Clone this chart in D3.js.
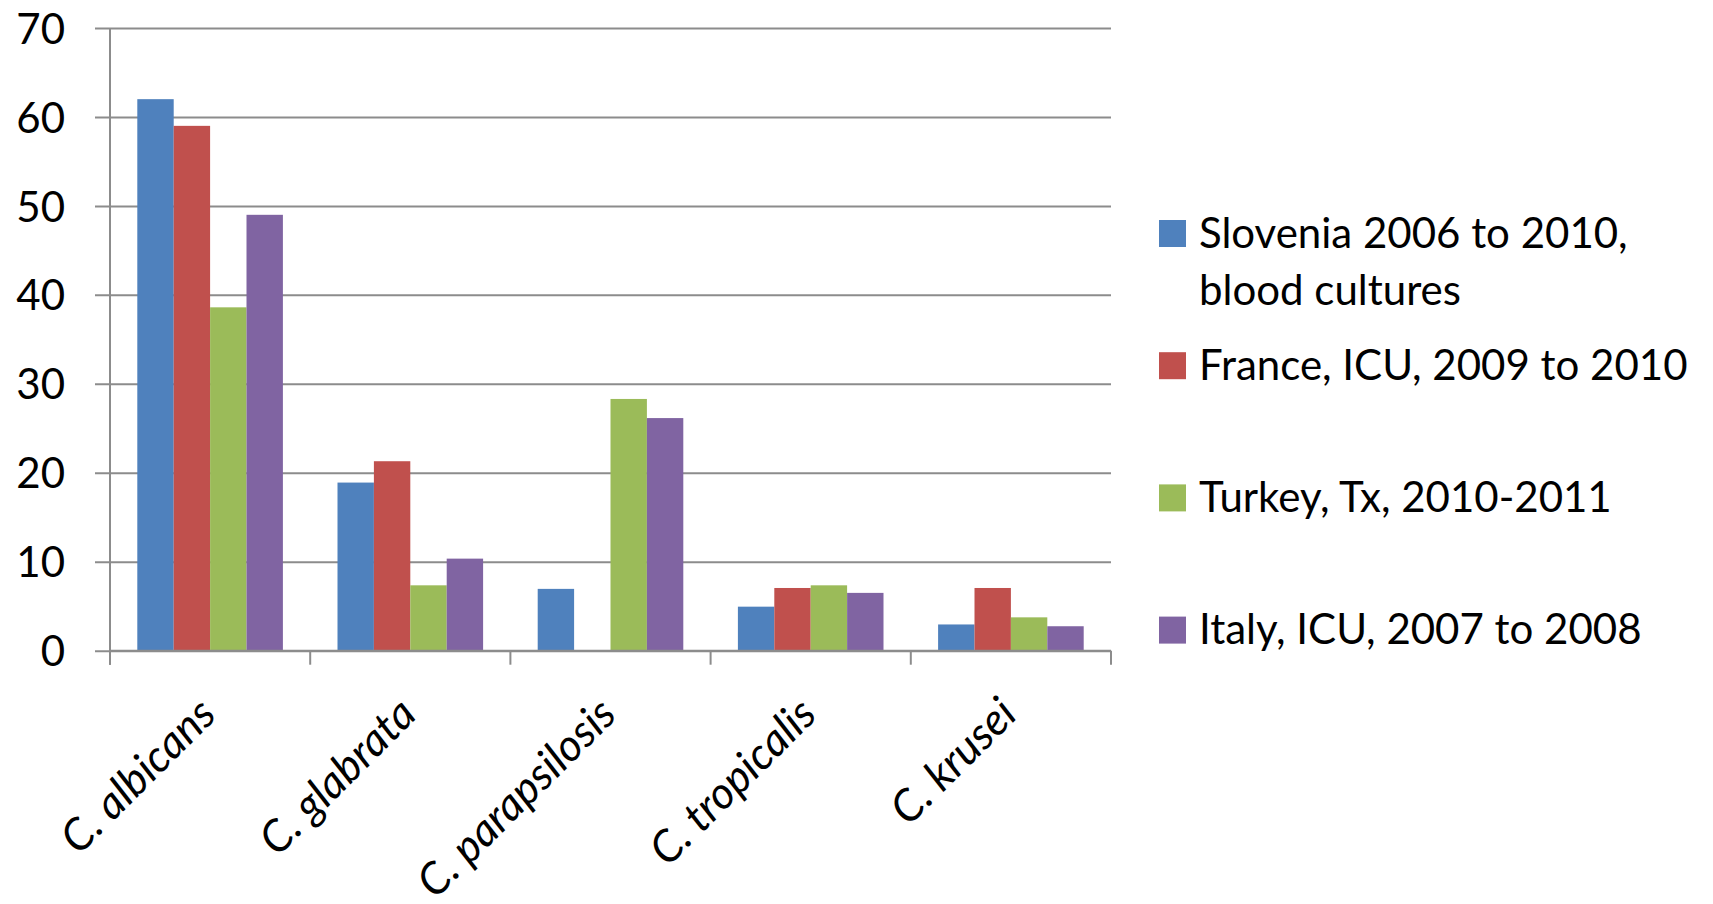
<!DOCTYPE html>
<html>
<head>
<meta charset="utf-8">
<script src="https://cdn.jsdelivr.net/npm/d3@7"></script>
<style>
  body { margin: 0; background: #ffffff; }
  svg { display: block; }
</style>
</head>
<body>
<div id="chart_div"></div>
<script>
// species on the x axis
var categories = ["C. albicans", "C. glabrata", "C. parapsilosis", "C. tropicalis", "C. krusei"];
var series_names = ["Slovenia 2006 to 2010, blood cultures", "France, ICU, 2009 to 2010", "Turkey, Tx, 2010-2011", "Italy, ICU, 2007 to 2008"];
var legend_lines = [["Slovenia 2006 to 2010,", "blood cultures"], ["France, ICU, 2009 to 2010"], ["Turkey, Tx, 2010-2011"], ["Italy, ICU, 2007 to 2008"]];
var slovenia_values = [62, 18.9, 6.95, 4.95, 2.95];
var france_values = [59, 21.3, 0, 7.05, 7.05];
var turkey_values = [38.6, 7.35, 28.3, 7.35, 3.75];
var italy_values = [49, 10.35, 26.15, 6.5, 2.75];
var y_ticks = [0, 10, 20, 30, 40, 50, 60, 70];
var colors = ["#4F81BD", "#C0504D", "#9BBB59", "#8064A2"];

var width = 1713, height = 904;
var all_values = [slovenia_values, france_values, turkey_values, italy_values];

var svg = d3.select("#chart_div")
  .append("svg")
  .attr("width", width)
  .attr("height", height);

var xScale = d3.scaleBand()
  .domain(categories)
  .range([110, 1111])
  .paddingInner(0)
  .paddingOuter(0);

var xInner = d3.scaleBand()
  .domain(d3.range(series_names.length))
  .range([0, xScale.bandwidth()])
  .paddingInner(0)
  .paddingOuter(0.75);

var yScale = d3.scaleLinear()
  .domain([0, 70])
  .range([650.7, 28]);

//gridlines + y labels
var yAxis = d3.axisLeft(yScale)
  .tickValues(y_ticks)
  .tickSize(-(1111 - 110))
  .tickSizeOuter(0)
  .tickPadding(0)
  .tickFormat(d3.format("d"));

var yg = svg.append("g")
  .attr("transform", "translate(110,0)")
  .call(yAxis);
yg.select(".domain").remove();
yg.selectAll(".tick line")
  .attr("x1", -15)
  .attr("stroke", "#8c8c8c")
  .attr("stroke-width", 2);
yg.selectAll(".tick text")
  .attr("x", -45)
  .attr("dy", "0.36em")
  .style("font-family", "Lato")
  .style("font-size", "42px")
  .style("fill", "#000000");

// bars
var groups = svg.append("g")
  .selectAll("g")
  .data(all_values)
  .enter().append("g")
    .attr("fill", function(d, i) { return colors[i]; });

groups.each(function(vals, si) {
  d3.select(this).selectAll("rect")
    .data(vals)
    .enter().append("rect")
      .attr("x", function(d, ci) { return xScale(categories[ci]) + xInner(si); })
      .attr("y", function(d) { return yScale(d); })
      .attr("width", xInner.bandwidth())
      .attr("height", function(d) { return yScale(0) - yScale(d); });
});

// x axis line and category ticks
var xAxis = d3.axisBottom(xScale)
  .tickSize(0)
  .tickFormat("");
var xg = svg.append("g")
  .attr("transform", "translate(0," + yScale(0) + ")")
  .call(xAxis);
xg.select(".domain")
  .attr("d", "M110,0H1111")
  .attr("stroke", "#8c8c8c")
  .attr("stroke-width", 2);
xg.selectAll(".tick").remove();

var tick_pos = categories.map(function(c) { return xScale(c); }).concat([xScale.range()[1]]);
svg.append("g")
  .selectAll("line")
  .data(tick_pos)
  .enter().append("line")
    .attr("x1", function(d) { return d; })
    .attr("x2", function(d) { return d; })
    .attr("y1", yScale(0))
    .attr("y2", yScale(0) + 14)
    .attr("stroke", "#8c8c8c")
    .attr("stroke-width", 2);

// y axis line
svg.append("line")
  .attr("x1", 110).attr("x2", 110)
  .attr("y1", yScale(70)).attr("y2", yScale(0) + 14)
  .attr("stroke", "#8c8c8c")
  .attr("stroke-width", 2);

// rotated category labels
svg.append("g")
  .selectAll("text")
  .data(categories)
  .enter().append("text")
    .attr("transform", function(d) {
      return "translate(" + (xScale(d) + xScale.bandwidth() / 2 + 8) + "," + (yScale(0) + 66) + ") rotate(-45)";
    })
    .attr("text-anchor", "end")
    .style("font-family", "Lato")
    .style("font-style", "italic")
    .style("font-size", "44px")
    .style("fill", "#000000")
    .text(function(d) { return d; });

// legend
var legend = svg.append("g")
  .selectAll("g")
  .data(series_names)
  .enter().append("g")
    .attr("transform", function(d, i) { return "translate(1159," + (233.5 + i * 132.2) + ")"; });

legend.append("rect")
  .attr("x", 0)
  .attr("y", -13.5)
  .attr("width", 27)
  .attr("height", 27)
  .attr("fill", function(d, i) { return colors[i]; });

legend.each(function(d, i) {
  d3.select(this).selectAll("text")
    .data(legend_lines[i])
    .enter().append("text")
      .attr("x", 40)
      .attr("y", function(t, j) { return 14 + j * 57; })
      .style("font-family", "Lato")
      .style("font-size", "42px")
      .style("fill", "#000000")
      .text(function(t) { return t; });
});
</script>
</body>
</html>
